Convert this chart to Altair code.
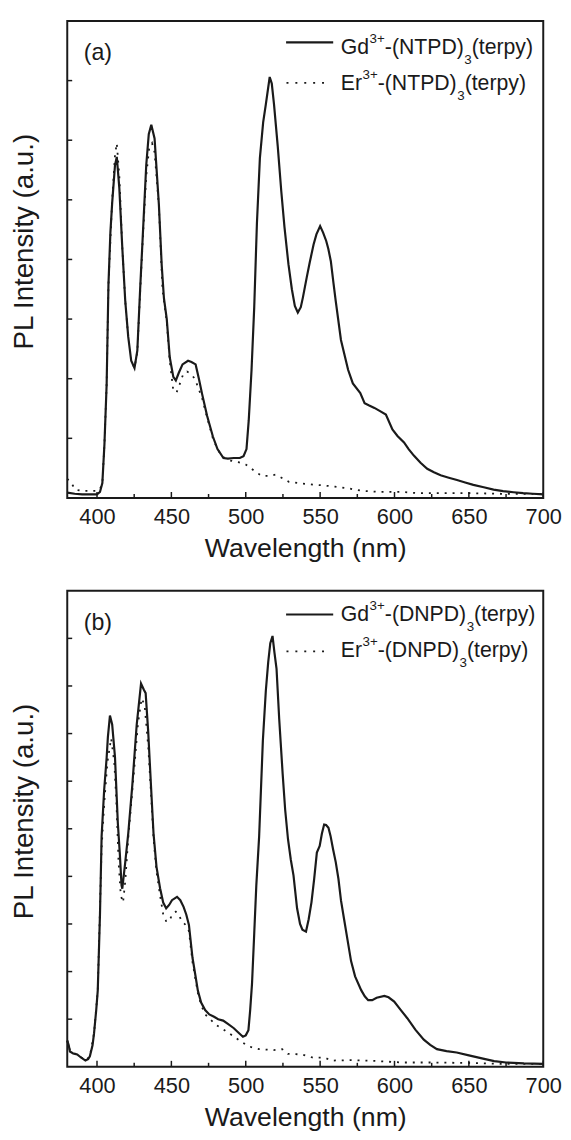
import altair as alt
import pandas as pd

# ---------------- data ----------------
X_DOMAIN = [380, 700]
X_LABELS = [400, 450, 500, 550, 600, 650, 700]
X_MINOR = [425, 475, 525, 575, 625, 675]
A_YTICKS = [1, 2, 3, 4, 5, 6, 7]
B_YTICKS = [1, 2, 3, 4, 5, 6, 7, 8, 9]
A_YMAX = 8
B_YMAX = 10

# (a) Gd3+-(NTPD)3(terpy)
a_gd_wl = [380, 385, 390, 395, 400, 402, 403.6, 405, 406.5, 407.7, 409, 410.2, 412.1, 413.3, 415, 417,
           419, 421, 423, 425.2, 427.1, 429, 430.7, 433.1, 434.8, 436.5, 438.7, 441.6, 443.5, 445,
           446.9, 448.9, 451.3, 453, 455, 457.5, 461.2, 463.5, 466.3, 468.5, 470.6, 474, 477.9, 481, 485,
           488, 492, 496, 498.5, 500.5, 502, 503.9, 505.7, 507.5, 509.5, 511.7, 513.5, 516.1, 517.5, 519,
           521.5, 523.9, 526, 528.7, 531, 533, 535, 537, 538.4, 541, 543, 545.6, 547.5, 550, 552, 554.1,
           555.5, 557.2, 559, 560.5, 564, 568.8, 572, 577, 579.9, 583, 586.5, 590, 594.2, 598.6, 602,
           606.4, 609.5, 613, 617.5, 622, 626.5, 631, 636.5, 642, 647.5, 653, 660, 666.6, 673, 680, 686.5,
           693, 700]
a_gd_pl = [0.09, 0.07, 0.06, 0.06, 0.06, 0.1, 0.25, 0.9, 1.92, 3.58, 4.45, 4.95, 5.58, 5.72, 5.2, 4.2,
           3.3, 2.7, 2.3, 2.18, 2.47, 3.5, 4.36, 5.58, 6.1, 6.26, 6.03, 4.92, 3.9, 3.35,
           3.0, 2.36, 2.03, 1.97, 2.1, 2.24, 2.3, 2.28, 2.24, 2.0, 1.75, 1.38, 1.03, 0.82, 0.67,
           0.66, 0.67, 0.67, 0.7, 0.82, 1.3, 2.15, 3.2, 4.6, 5.7, 6.3, 6.6, 7.06, 6.95, 6.6,
           5.9, 5.14, 4.55, 3.92, 3.5, 3.22, 3.11, 3.2, 3.36, 3.7, 3.95, 4.25, 4.42, 4.56, 4.45, 4.31,
           4.18, 3.97, 3.6, 3.3, 2.65, 2.15, 1.92, 1.76, 1.59, 1.55, 1.51, 1.46, 1.4, 1.15, 1.04,
           0.93, 0.82, 0.71, 0.59, 0.49, 0.43, 0.38, 0.34, 0.3, 0.26, 0.22, 0.18, 0.14, 0.115, 0.095, 0.08,
           0.07, 0.06]

# (a) Er3+-(NTPD)3(terpy)
a_er_wl = [380, 382.2, 385.5, 389.4, 395, 400, 402, 403.6, 405, 406.5, 407.7, 410.2, 412.1, 413.3, 415,
           417, 419, 421, 423, 425.2, 427.1, 429, 430.7, 433.1, 435, 437, 438.7, 441.6, 444,
           446.9, 448.9, 451.3, 453.5, 455.5, 458, 460.5, 463, 465.8, 468, 470.6, 474, 477.9, 481,
           484, 488.8, 495, 500, 505.5, 510.6, 515.5, 519.9, 524, 529, 538, 552, 560, 569, 578, 590,
           605, 616, 633, 650, 672, 686, 700]
a_er_pl = [0.32, 0.27, 0.14, 0.12, 0.12, 0.12, 0.15, 0.25, 0.9, 1.92, 3.58, 5.0, 5.75, 5.95, 5.4,
           4.2, 3.3, 2.7, 2.3, 2.18, 2.45, 3.45, 4.3, 5.4, 5.85, 5.95, 5.8, 4.9, 3.5,
           2.95, 2.3, 1.8, 1.77, 1.9, 2.08, 2.12, 2.08, 2.0, 1.85, 1.68, 1.35, 1.0, 0.82,
           0.7, 0.63, 0.6, 0.56, 0.46, 0.37, 0.37, 0.39, 0.34, 0.27, 0.24, 0.21, 0.19, 0.16, 0.12, 0.1,
           0.1, 0.08, 0.08, 0.08, 0.07, 0.07, 0.07]

# (b) Gd3+-(DNPD)3(terpy)
b_gd_wl = [380, 381, 381.8, 384, 386.7, 389, 392.2, 394, 395.2, 397, 398, 399.5, 400.5, 402, 403.1,
           404.8, 406.5, 407.3, 408.7, 410.2, 412.1, 414, 415.3, 416.5, 417, 419, 421, 423.7,
           426.7, 429.6, 431.5, 432.7, 434.4, 436.3, 438, 440, 442.4, 444.5, 446.5, 448.5, 450.4,
           453.8, 456, 458.2, 460, 461.8, 464.2, 466, 467.8, 470, 472.7, 475.5, 478.7, 481.5, 484.8,
           488, 492, 495, 498.1, 500, 501.8, 503, 504.2, 505.7, 507.1, 509, 511.5, 513.5, 515.1, 516.5,
           518, 519.3, 520.7, 522.5, 524.8, 526.5, 528.4, 530.3, 532.1, 534.5, 536.5, 538.1, 540.5,
           542.3, 544.2, 546, 547.8, 549.7, 551.2, 552.7, 554, 555.6, 557, 558.7, 560.5, 562.3, 564,
           566, 568.5, 570.8, 573.5, 577.6, 580, 582.3, 585, 588, 593.2, 596, 599.8, 604, 608.6, 614,
           619.7, 624, 628.5, 635, 641.8, 650, 659.5, 667, 675, 687, 700]
b_gd_pl = [0.55, 0.45, 0.32, 0.28, 0.26, 0.2, 0.13, 0.16, 0.22, 0.45, 0.7, 1.2, 1.6, 3.2, 4.84,
           5.81, 6.5, 6.92, 7.38, 7.19, 6.5, 5.12, 4.5, 3.81, 3.74, 4.3, 4.9, 5.9,
           7.19, 8.05, 7.92, 7.85, 7.05, 5.9, 4.9, 4.2, 3.75, 3.45, 3.33, 3.4, 3.5,
           3.57, 3.5, 3.36, 3.2, 2.98, 2.29, 1.95, 1.6, 1.35, 1.19, 1.1, 1.05, 1.0, 0.97,
           0.9, 0.81, 0.72, 0.63, 0.66, 0.77, 1.2, 1.74, 2.8, 3.81, 4.84, 6.85, 7.9, 8.5, 8.9,
           9.05, 8.7, 8.36, 7.3, 6.16, 5.4, 4.78, 4.35, 4.02, 3.33, 3.0, 2.88, 2.84,
           3.1, 3.46, 3.95, 4.5, 4.64, 4.9, 5.09, 5.08, 5.02, 4.85, 4.57, 4.3, 3.95, 3.5,
           3.12, 2.65, 2.22, 1.9, 1.61, 1.48, 1.4, 1.4, 1.45, 1.49, 1.46, 1.37, 1.2, 1.02, 0.78,
           0.57, 0.46, 0.37, 0.33, 0.3, 0.24, 0.17, 0.12, 0.09, 0.07, 0.06]

# (b) Er3+-(DNPD)3(terpy)
b_er_wl = [380, 382, 386.7, 392.2, 395.2, 398, 400.5, 403.1, 405, 407, 409.5, 411.6, 413, 414.5, 416,
           417.5, 419, 421, 425.4, 427.5, 430, 432, 434.5, 436.3, 438, 440, 442.4, 444.5, 446.5,
           448.5, 450.5, 453, 455, 457, 459, 461.8, 464.2, 467.8, 470, 472.7, 476, 480, 487.2, 496.9,
           501.8, 509, 518.7, 524.5, 528.4, 537.8, 545.4, 553.3, 557.5, 571, 588.5, 605, 625, 650, 675, 700]
b_er_pl = [0.55, 0.32, 0.26, 0.13, 0.22, 0.7, 1.6, 4.6, 5.6, 6.4, 6.9, 6.4, 5.6, 4.3, 3.6,
           3.45, 3.9, 4.8, 6.4, 7.2, 7.74, 7.6, 6.7, 5.75, 4.8, 4.1, 3.6, 3.2, 3.06,
           3.05, 3.2, 3.26, 3.2, 3.05, 3.0, 2.85, 2.2, 1.55, 1.3, 1.1, 1.0, 0.88, 0.74, 0.53,
           0.43, 0.37, 0.35, 0.37, 0.27, 0.26, 0.19, 0.19, 0.13, 0.14, 0.12, 0.09, 0.09, 0.08, 0.06, 0.06]

# ---------------- style ----------------
FONT = "Liberation Sans"
INK = "#1a1a1a"
W = 482
H_A = 483
H_B = 482
F_MAIN = 21.5
F_SMALL = 13.5

ARIAL = {'G': 778, 'd': 556, '3': 556, '+': 584, '-': 333, '(': 333, ')': 333, 'N': 722,
         'T': 611, 'P': 667, 'D': 722, 't': 278, 'e': 556, 'r': 333, 'p': 556, 'y': 500, 'E': 667}


def text_w(s, size):
    return sum(ARIAL.get(c, 556) for c in s) * size / 1000.0


ONE = pd.DataFrame({"k": [0]})


def txt(x, y, s, size, align="left", baseline="alphabetic"):
    return alt.Chart(ONE).mark_text(align=align, baseline=baseline, fontSize=size, font=FONT,
                                    color=INK).encode(x=alt.value(x), y=alt.value(y), text=alt.value(s))


def legend_entry(xl0, xl1, yl, xt, yb, ion, ligand, dotted):
    if dotted:
        line = alt.Chart(ONE).mark_rule(color=INK, strokeWidth=1.8, strokeDash=[2, 7]).encode(
            x=alt.value(xl0), x2=alt.value(xl1), y=alt.value(yl))
    else:
        line = alt.Chart(ONE).mark_rule(color=INK, strokeWidth=2.2).encode(
            x=alt.value(xl0), x2=alt.value(xl1), y=alt.value(yl))
    parts = [(ion, "n"), ("3+", "sup"), ("-(" + ligand + ")", "n"), ("3", "sub"), ("(terpy)", "n")]
    layers = [line]
    x = xt
    for s, kind in parts:
        if kind == "n":
            layers.append(txt(x, yb, s, F_MAIN))
            x += text_w(s, F_MAIN)
        elif kind == "sup":
            layers.append(txt(x + 0.5, yb - 11.5, s, F_SMALL))
            x += text_w(s, F_SMALL) + 0.5
        else:
            layers.append(txt(x + 0.5, yb + 10, s, F_SMALL))
            x += text_w(s, F_SMALL) + 0.5
    return layers


def panel(gd_wl, gd_pl, er_wl, er_pl, ymax, yticks, h, tag, ligand, leg):
    xs = alt.Scale(domain=X_DOMAIN, nice=False, zero=False)
    ys = alt.Scale(domain=[0, ymax], nice=False, zero=False)
    xax = alt.Axis(title="Wavelength (nm)", values=X_LABELS, ticks=False, domain=False, grid=False,
                   labelFontSize=22, labelFont=FONT, labelColor=INK, labelPadding=9,
                   labelFlush=False, labelOverlap=False,
                   titleFontSize=27, titleFont=FONT, titleFontWeight="normal", titleColor=INK,
                   titlePadding=8)
    yax = alt.Axis(title="PL Intensity (a.u.)", labels=False, ticks=False, domain=False, grid=False,
                   titleFontSize=28, titleFont=FONT, titleFontWeight="normal", titleColor=INK,
                   titleAngle=270, titleX=-35, titleY=223, titleAlign="center",
                   titleBaseline="alphabetic")
    X = alt.X("wl:Q", scale=xs, axis=xax)
    Y = alt.Y("pl:Q", scale=ys, axis=yax)

    gd = alt.Chart(pd.DataFrame({"wl": gd_wl, "pl": gd_pl})).mark_line(
        color=INK, strokeWidth=2.2).encode(x=X, y=Y)
    er = alt.Chart(pd.DataFrame({"wl": er_wl, "pl": er_pl})).mark_line(
        color=INK, strokeWidth=1.8, strokeDash=[2, 6]).encode(x=X, y=Y)

    ytick = alt.Chart(pd.DataFrame({"pl": yticks})).mark_rule(color=INK, strokeWidth=1.5).encode(
        y=Y, x=alt.value(0), x2=alt.value(5))
    xmaj = alt.Chart(pd.DataFrame({"wl": X_LABELS})).mark_rule(color=INK, strokeWidth=1.5).encode(
        x=X, y=alt.value(h), y2=alt.value(h - 6))
    xmin = alt.Chart(pd.DataFrame({"wl": X_MINOR})).mark_rule(color=INK, strokeWidth=1.5).encode(
        x=X, y=alt.value(h), y2=alt.value(h - 4))

    label = txt(31, leg["tag_y"], tag, 23.5, align="center", baseline="middle")
    e1 = legend_entry(221.6, 269.3, leg["l1"], 277, leg["b1"], "Gd", ligand, False)
    e2 = legend_entry(222, 267, leg["l2"], 277, leg["b2"], "Er", ligand, True)

    return alt.layer(ytick, xmaj, xmin, er, gd, label, *e1, *e2).properties(width=W, height=h)


pa = panel(a_gd_wl, a_gd_pl, a_er_wl, a_er_pl, A_YMAX, A_YTICKS, H_A, "(a)", "NTPD",
           {"tag_y": 33, "l1": 21.7, "b1": 33.4, "l2": 62.7, "b2": 70})
pb = panel(b_gd_wl, b_gd_pl, b_er_wl, b_er_pl, B_YMAX, B_YTICKS, H_B, "(b)", "DNPD",
           {"tag_y": 33, "l1": 24, "b1": 30.6, "l2": 61.3, "b2": 67.3})

chart = alt.vconcat(pa, pb, spacing=28).properties(
    padding={"left": 2, "top": 5, "right": 0, "bottom": 0},
    background="white",
).configure_view(stroke=INK, strokeWidth=2)

chart.save("out.html", embed_options={"renderer": "svg", "actions": False})
